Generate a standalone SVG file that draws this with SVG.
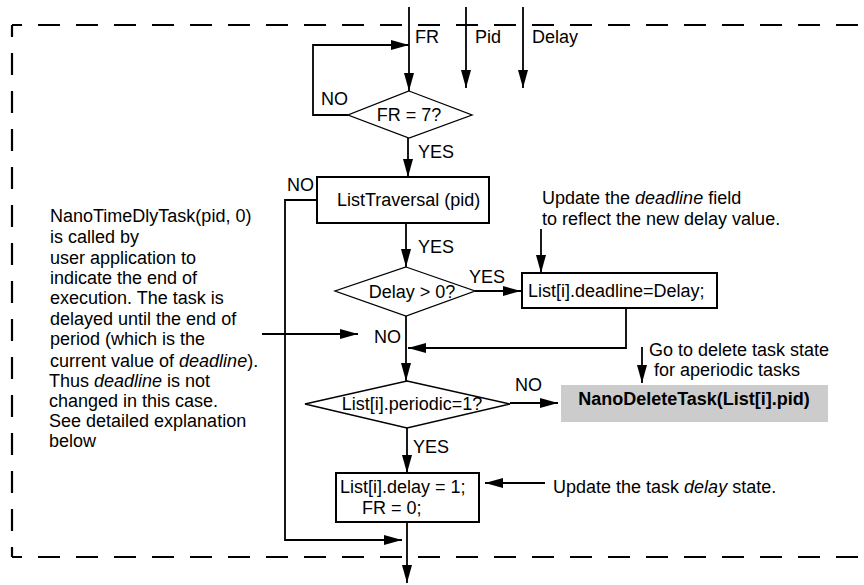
<svg xmlns="http://www.w3.org/2000/svg" width="864" height="585" viewBox="0 0 864 585">
<defs>
<style>
text{font-family:"Liberation Sans",Arial,Helvetica,sans-serif;font-size:18px;fill:#000}
.b{font-weight:bold}
.i{font-style:italic}
.c{text-anchor:middle}
.box{fill:#fff;stroke:#000;stroke-width:2}
.dia{fill:#fff;stroke:#000;stroke-width:1.3}
.ln{fill:none;stroke:#000;stroke-width:1.8}
.arr{fill:none;stroke:#000;stroke-width:1.8;marker-end:url(#ah)}
.dash{fill:none;stroke:#000;stroke-width:2.2;stroke-dasharray:22 16}
</style>
<marker id="ah" viewBox="0 0 18 10" refX="18" refY="5" markerWidth="18" markerHeight="10" markerUnits="userSpaceOnUse" orient="auto">
<path d="M0,0 L18,5 L0,10 z" fill="#000"/>
</marker>
</defs>
<rect width="864" height="585" fill="#fff"/>

<g id="border">
<line class="dash" x1="12" y1="25" x2="870" y2="25" stroke-dashoffset="12"/>
<line class="dash" x1="12" y1="25" x2="12" y2="557" stroke-dashoffset="10"/>
<line class="dash" x1="12" y1="557" x2="870" y2="557" stroke-dashoffset="12"/>
</g>

<g id="connectors">
<line class="arr" x1="409" y1="7" x2="409" y2="91"/>
<line class="arr" x1="466" y1="7" x2="466" y2="88"/>
<line class="arr" x1="523" y1="7" x2="523" y2="88"/>
<polyline class="arr" points="348,115 313,115 313,45 409,45"/>
<line class="arr" x1="408" y1="138" x2="408" y2="177"/>
<line class="arr" x1="406" y1="223" x2="406" y2="267"/>
<line class="arr" x1="475" y1="291" x2="521" y2="291"/>
<line class="arr" x1="541" y1="229" x2="541" y2="273"/>
<polyline class="arr" points="626,308 626,348 408,348"/>
<line class="arr" x1="406" y1="316" x2="406" y2="381"/>
<line class="arr" x1="262" y1="334" x2="358" y2="334"/>
<line class="arr" x1="510" y1="403" x2="558" y2="403"/>
<line class="arr" x1="642" y1="347" x2="642" y2="383"/>
<line class="arr" x1="407" y1="428" x2="407" y2="473"/>
<line class="arr" x1="545" y1="483" x2="485" y2="483"/>
<polyline class="arr" points="317,200 285,200 285,540 402,540"/>
<line class="arr" x1="407" y1="522" x2="407" y2="583"/>
</g>

<g id="labels">
<text x="415" y="43">FR</text>
<text x="475" y="43">Pid</text>
<text x="532" y="43">Delay</text>
<text x="321" y="105">NO</text>
<text x="418" y="158">YES</text>
<text x="287" y="191">NO</text>
<text x="418" y="253">YES</text>
<text x="469" y="283">YES</text>
<text x="374" y="343">NO</text>
<text x="515" y="391">NO</text>
<text x="413" y="453">YES</text>
</g>

<g id="fr-check">
<polygon class="dia" points="409,91 472,115 409,138 348,115"/>
<text class="c" x="409" y="121">FR = 7?</text>
</g>

<g id="list-traversal">
<rect class="box" x="317" y="177" width="172" height="46"/>
<text x="337" y="206">ListTraversal (pid)</text>
</g>

<g id="delay-check">
<polygon class="dia" points="406,267 475,291 406,316 335,291"/>
<text class="c" x="412" y="298">Delay &gt; 0?</text>
</g>

<g id="deadline-box">
<rect class="box" x="522" y="273" width="195" height="35"/>
<text x="528" y="297">List[i].deadline=Delay;</text>
</g>

<g id="deadline-note">
<text x="542" y="204">Update the <tspan class="i">deadline</tspan> field</text>
<text x="542" y="225">to reflect the new delay value.</text>
</g>

<g id="periodic-check">
<polygon class="dia" points="407,381 510,404 407,428 305,404"/>
<text class="c" x="412" y="410">List[i].periodic=1?</text>
</g>

<g id="delete-task">
<rect x="561" y="385" width="267" height="37" fill="#cccccc"/>
<text class="b c" x="694" y="405">NanoDeleteTask(List[i].pid)</text>
</g>

<g id="delete-note">
<text x="649" y="356">Go to delete task state</text>
<text x="654" y="376">for aperiodic tasks</text>
</g>

<g id="delay-box">
<rect class="box" x="336" y="473" width="143" height="49"/>
<text x="340" y="493">List[i].delay = 1;</text>
<text x="362" y="514">FR = 0;</text>
</g>

<g id="delay-note">
<text x="553" y="493">Update the task <tspan class="i">delay</tspan> state.</text>
</g>

<g id="left-note">
<text x="50" y="222">NanoTimeDlyTask(pid, 0)</text>
<text x="50" y="243">is called by</text>
<text x="50" y="264">user application to</text>
<text x="50" y="284">indicate the end of</text>
<text x="50" y="304">execution. The task is</text>
<text x="50" y="325">delayed until the end of</text>
<text x="50" y="345">period (which is the</text>
<text x="50" y="367">current value of <tspan class="i">deadline</tspan>).</text>
<text x="49" y="387">Thus <tspan class="i">deadline</tspan> is not</text>
<text x="49" y="407">changed in this case.</text>
<text x="49" y="427">See detailed explanation</text>
<text x="49" y="447">below</text>
</g>
</svg>
